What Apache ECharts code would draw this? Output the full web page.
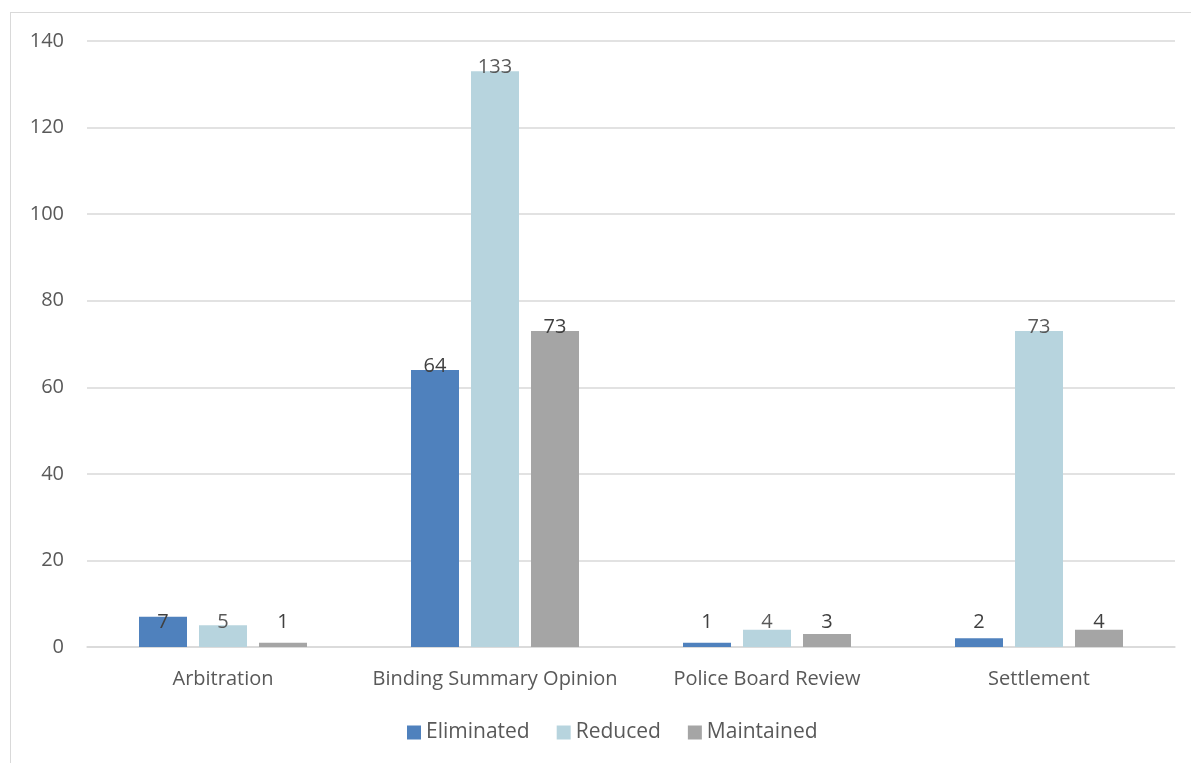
<!DOCTYPE html>
<html>
<head>
<meta charset="utf-8">
<script src="https://cdn.jsdelivr.net/npm/echarts@6/dist/echarts.min.js"></script>
<style>
  html, body { margin: 0; padding: 0; background: #fff; }
  #frame { position: absolute; left: 10px; top: 12px; width: 1200px; height: 800px; border: 1.5px solid #d9d9d9; box-sizing: border-box; }
  #chart { position: absolute; left: 0; top: 0; width: 1191px; height: 763px; }
</style>
</head>
<body>
<div id="frame"></div>
<div id="chart"></div>
<script>
const categories = ['Arbitration', 'Binding Summary Opinion', 'Police Board Review', 'Settlement']
const eliminated = [7, 64, 1, 2]
const reduced = [5, 133, 4, 73]
const maintained = [1, 73, 3, 4]
const yTicks = [0, 20, 40, 60, 80, 100, 120, 140]

const font = '"Open Sans", "Noto Sans", sans-serif'

// short bars: excel keeps the label at a fixed height just above the axis
function barData(values) {
  return values.map(v => v < 10
    ? { value: v, label: { position: 'insideBottom', distance: 15 } }
    : v)
}

function barSeries(name, data, color, labelColor) {
  return {
    name,
    type: 'bar',
    data: barData(data),
    barWidth: 48,
    barGap: '25%',
    itemStyle: { color },
    label: {
      show: true,
      position: 'top',
      distance: -6,
      color: labelColor,
      fontSize: 20,
      fontFamily: font
    }
  }
}

const chart = echarts.init(document.getElementById('chart'), null, { renderer: 'canvas' })
chart.setOption({
  animation: false,
  textStyle: { fontFamily: font },
  grid: { left: 87, right: 16, top: 41, bottom: 116, containLabel: false },
  legend: {
    bottom: 15,
    left: 402,
    itemWidth: 14,
    itemHeight: 14,
    itemGap: 27,
    icon: 'rect',
    textStyle: { fontSize: 21, color: '#595959', fontFamily: font }
  },
  xAxis: {
    type: 'category',
    data: categories,
    axisLine: { lineStyle: { color: '#d9d9d9', width: 1.5 } },
    axisTick: { show: false },
    axisLabel: { color: '#595959', fontSize: 20, margin: 22, interval: 0, fontFamily: font }
  },
  yAxis: {
    type: 'value',
    min: yTicks[0],
    max: yTicks[yTicks.length - 1],
    interval: 20,
    axisLine: { show: false },
    axisTick: { show: false },
    splitLine: { lineStyle: { color: '#d9d9d9', width: 1.5 } },
    axisLabel: { color: '#595959', fontSize: 20, margin: 23, fontFamily: font }
  },
  series: [
    barSeries('Eliminated', eliminated, '#4f81bd', '#404040'),
    barSeries('Reduced', reduced, '#b7d4de', '#595959'),
    barSeries('Maintained', maintained, '#a5a5a5', '#404040')
  ]
})
</script>
</body>
</html>
